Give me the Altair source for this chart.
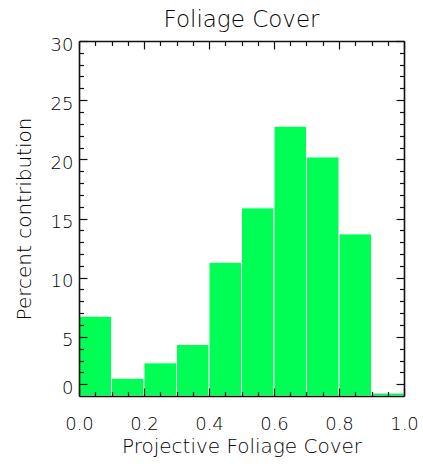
import altair as alt
import pandas as pd

# Histogram bins of projective foliage cover and their percent contribution
bin_start = [0.0, 0.1, 0.2, 0.3, 0.4, 0.5, 0.6, 0.7, 0.8, 0.9]
bin_end = [0.1, 0.2, 0.3, 0.4, 0.5, 0.6, 0.7, 0.8, 0.9, 1.0]
percent = [6.75, 1.5, 2.8, 4.35, 11.3, 15.9, 22.8, 20.2, 13.7, 0.25]

x_major = [0.0, 0.2, 0.4, 0.6, 0.8, 1.0]
x_minor = [0.05, 0.1, 0.15, 0.25, 0.3, 0.35, 0.45, 0.5, 0.55, 0.65, 0.7, 0.75, 0.85, 0.9, 0.95]
y_major = [1, 5, 10, 15, 20, 25, 30]
y_minor = [2, 3, 4, 6, 7, 8, 9, 11, 12, 13, 14, 16, 17, 18, 19, 21, 22, 23, 24, 26, 27, 28, 29]

df = pd.DataFrame({"start": bin_start, "end": bin_end, "pct": percent})

FONT = "DejaVu Sans"
WEIGHT = 300
INK = "#111111"
TEXT = "#000000"

xscale = alt.Scale(domain=[0, 1], nice=False, zero=False)
yscale = alt.Scale(domain=[0, 30], nice=False)


def ax(orient, values, size, labels=False, title=None, **kw):
    params = dict(
        orient=orient,
        values=values,
        ticks=True,
        tickSize={"expr": str(-size)},
        tickColor=INK,
        tickWidth=1.2,
        labels=labels,
        grid=False,
        domain=labels or kw.pop("domain", False),
        domainColor=INK,
        domainWidth=1.6,
        zindex=2,
        title=title,
    )
    params.update(kw)
    return alt.Axis(**params)


base = alt.Chart(df)

bars = base.mark_rect(color="#00ff55", stroke="#ffffff", strokeWidth=1).encode(
    x=alt.X("start:Q", scale=xscale,
            axis=ax("bottom", x_major, 8, labels=True, title="Projective Foliage Cover",
                    format=".1f", labelFont=FONT, labelFontSize=18, labelColor=TEXT,
                    labelFontWeight=WEIGHT,
                    labelPadding=27, labelFlush=False,
                    titleFont=FONT, titleFontSize=20, titleFontWeight=WEIGHT,
                    titleColor=TEXT, titlePadding=3)),
    x2="end:Q",
    y=alt.Y("pct:Q", scale=yscale,
            axis=ax("left", y_major, 8, labels=True, title="Percent contribution",
                    labelExpr="datum.value == 1 ? '0' : datum.label",
                    labelFont=FONT, labelFontSize=18, labelColor=TEXT,
                    labelFontWeight=WEIGHT,
                    labelPadding=14, labelFlush=False, labelOverlap=False,
                    labelOffset=4,
                    titleFont=FONT, titleFontSize=20, titleFontWeight=WEIGHT,
                    titleColor=TEXT, titlePadding=16)),
    y2=alt.datum(0),
)

top_right_major = base.mark_point(opacity=0).encode(
    x=alt.X("start:Q", scale=xscale, axis=ax("top", x_major, 8, domain=True)),
    y=alt.Y("pct:Q", scale=yscale, axis=ax("right", y_major, 8, domain=True)),
)

minor_bl = base.mark_point(opacity=0).encode(
    x=alt.X("start:Q", scale=xscale, axis=ax("bottom", x_minor, 4.5)),
    y=alt.Y("pct:Q", scale=yscale, axis=ax("left", y_minor, 4.5)),
)

minor_tr = base.mark_point(opacity=0).encode(
    x=alt.X("start:Q", scale=xscale, axis=ax("top", x_minor, 4.5)),
    y=alt.Y("pct:Q", scale=yscale, axis=ax("right", y_minor, 4.5)),
)

chart = alt.layer(bars, top_right_major, minor_bl, minor_tr).resolve_axis(
    x="independent", y="independent"
).properties(
    width=325,
    height=355,
    autosize=alt.AutoSizeParams(type="none"),
    padding={"left": 79, "top": 41, "right": 19, "bottom": 71},
    title=alt.TitleParams("Foliage Cover", font=FONT, fontSize=23, fontWeight=WEIGHT,
                          color=TEXT, anchor="middle", baseline="bottom", offset=-19),
).configure_view(stroke=None).configure(background="white")

chart.save("out.html", embed_options={"renderer": "svg", "actions": False})
